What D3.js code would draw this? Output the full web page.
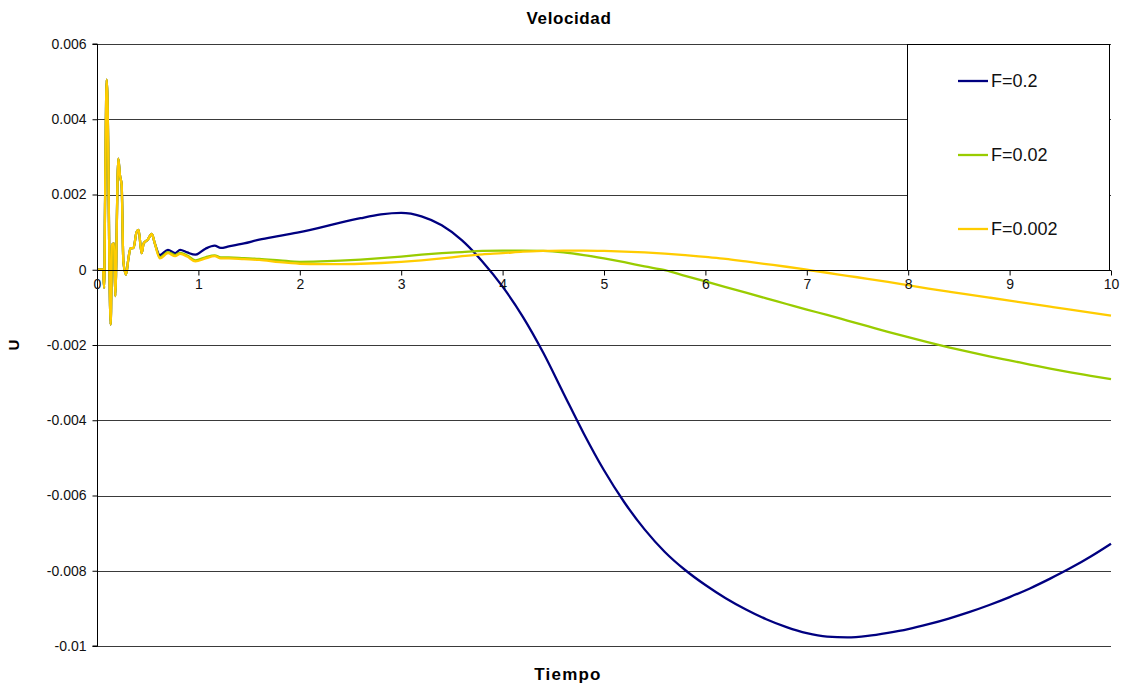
<!DOCTYPE html>
<html>
<head>
<meta charset="utf-8">
<script src="https://cdn.jsdelivr.net/npm/d3@7"></script>
<style>
  html, body { margin: 0; padding: 0; background: #fff; }
  svg { display: block; font-family: "Liberation Sans", Arial, sans-serif; }
</style>
</head>
<body>
<svg id="chart" width="1125" height="686"></svg>
<script>
// Time samples (s)
const time = [
  0, 0.06, 0.07, 0.08, 0.095, 0.11, 0.12, 0.135, 0.148, 0.168, 0.18, 0.21, 0.227, 0.243,
  0.26, 0.286, 0.31, 0.33, 0.36, 0.39, 0.41, 0.44, 0.46, 0.50, 0.54, 0.57,
  0.62, 0.70, 0.77, 0.82, 0.89, 0.97, 1.07, 1.16, 1.22, 1.3, 1.45, 1.6, 1.8, 2.0,
  2.2, 2.4, 2.6, 2.8, 3.0, 3.2, 3.4, 3.6, 3.8, 4.0, 4.2, 4.4, 4.6, 4.8, 5.0,
  5.2, 5.4, 5.6, 5.8, 6.0, 6.2, 6.4, 6.6, 6.8, 7.0, 7.2, 7.4, 7.6, 7.8, 8.0,
  8.2, 8.4, 8.6, 8.8, 9.0, 9.2, 9.4, 9.6, 9.8, 10.0
];

// Velocity U for F = 0.2
const uF02 = [
  0, 0, -0.00048, 0.0019, 0.00505, 0.0034, 0.00066, -0.00146, 0.00066, 0.0007, -0.0007, 0.00295, 0.0025, 0.00225,
  0.00022, -0.00013, 0.0003, 0.00057, 0.00058, 0.001, 0.00106, 0.00044, 0.0007, 0.0008, 0.00095, 0.0007,
  0.00039, 0.00053, 0.00044, 0.00053, 0.00046, 0.0004, 0.00056, 0.00064, 0.00058, 0.00062, 0.0007, 0.0008, 0.0009, 0.001,
  0.00112, 0.00125, 0.00137, 0.00147, 0.00151, 0.00142, 0.00118, 0.00078, 0.00022, -0.00045, -0.00125, -0.0022, -0.00328, -0.00435, -0.00533,
  -0.00618, -0.0069, -0.0075, -0.00798, -0.00838, -0.00873, -0.00903, -0.00929, -0.0095, -0.00966, -0.00975, -0.00977, -0.00973, -0.00965, -0.00955,
  -0.00942, -0.00927, -0.0091, -0.00891, -0.0087, -0.00847, -0.00821, -0.00793, -0.00762, -0.00728
];

// Velocity U for F = 0.02
const uF002 = [
  0, 0, -0.00048, 0.0019, 0.00505, 0.0034, 0.00066, -0.00146, 0.00066, 0.0007, -0.0007, 0.00295, 0.0025, 0.00225,
  0.00022, -0.00013, 0.0003, 0.00057, 0.00058, 0.001, 0.00106, 0.00044, 0.0007, 0.0008, 0.00095, 0.0007,
  0.00033, 0.00047, 0.00039, 0.00045, 0.00038, 0.00025, 0.00033, 0.00038, 0.00033, 0.00033, 0.00031, 0.00029, 0.00025, 0.00021,
  0.00022, 0.00024, 0.00027, 0.00031, 0.00035, 0.0004, 0.00044, 0.00047, 0.0005, 0.00051, 0.00051, 0.0005, 0.00046, 0.00039, 0.0003,
  0.0002, 0.00009, -0.00001, -0.00016, -0.00031, -0.00046, -0.00061, -0.00076, -0.00091, -0.00106, -0.0012, -0.00135, -0.0015, -0.00165, -0.00179,
  -0.00193, -0.00206, -0.00218, -0.0023, -0.00241, -0.00252, -0.00263, -0.00273, -0.00282, -0.00291
];

// Velocity U for F = 0.002
const uF0002 = [
  0, 0, -0.00048, 0.0019, 0.00505, 0.0034, 0.00066, -0.00146, 0.00066, 0.0007, -0.0007, 0.00295, 0.0025, 0.00225,
  0.00022, -0.00013, 0.0003, 0.00057, 0.00058, 0.001, 0.00106, 0.00044, 0.0007, 0.0008, 0.00095, 0.0007,
  0.0003, 0.00044, 0.00036, 0.00042, 0.00035, 0.00022, 0.0003, 0.00036, 0.0003, 0.0003, 0.00028, 0.00026, 0.0002, 0.00016,
  0.00015, 0.00015, 0.00016, 0.00018, 0.00021, 0.00025, 0.0003, 0.00036, 0.00041, 0.00044, 0.00048, 0.0005, 0.00051, 0.00051, 0.0005,
  0.00048, 0.00046, 0.00043, 0.00039, 0.00034, 0.00029, 0.00022, 0.00015, 0.00008, 0, -0.00008, -0.00016, -0.00024, -0.00032, -0.00041,
  -0.0005, -0.00058, -0.00066, -0.00074, -0.00082, -0.0009, -0.00098, -0.00106, -0.00114, -0.00122
];

const seriesNames = ["F=0.2", "F=0.02", "F=0.002"];
const seriesColors = ["#000080", "#99CC00", "#FFCC00"];
const seriesValues = [uF02, uF002, uF0002];

const xTicks = [0, 1, 2, 3, 4, 5, 6, 7, 8, 9, 10];
const yTicks = [0.006, 0.004, 0.002, 0, -0.002, -0.004, -0.006, -0.008, -0.01];

const chartTitle = "Velocidad";
const xTitle = "Tiempo";
const yTitle = "U";

const svg = d3.select("#chart");
const plot = { left: 97, right: 1111, top: 44, bottom: 646 };

const x = d3.scaleLinear().domain([0, 10]).range([plot.left, plot.right]);
const y = d3.scaleLinear().domain([-0.01, 0.006]).range([plot.bottom, plot.top]);

// Horizontal gridlines
svg.append("g")
  .selectAll("line")
  .data(yTicks)
  .join("line")
  .attr("x1", plot.left).attr("x2", plot.right)
  .attr("y1", d => Math.round(y(d)) + 0.5).attr("y2", d => Math.round(y(d)) + 0.5)
  .attr("stroke", "#3a3a3a").attr("stroke-width", 1);

// Series lines
const line = d3.line()
  .x((d, i) => x(time[i]))
  .y(d => y(d))
  .curve(d3.curveMonotoneX);

svg.append("g")
  .selectAll("path")
  .data(seriesValues)
  .join("path")
  .attr("d", d => line(d))
  .attr("fill", "none")
  .attr("stroke", (d, i) => seriesColors[i])
  .attr("stroke-width", 2.3)
  .attr("stroke-linejoin", "round");

// Y axis
const yAxis = d3.axisLeft(y)
  .tickValues(yTicks)
  .tickSize(5)
  .tickPadding(6)
  .tickFormat(d => d === 0 ? "0" : String(+d.toFixed(3)));

const gy = svg.append("g")
  .attr("transform", `translate(${plot.left + 0.5},0)`)
  .call(yAxis);
gy.select(".domain").attr("stroke", "#000").attr("d", `M-5,${plot.top}H0V${plot.bottom}H-5`);
gy.selectAll(".tick line").attr("stroke", "#000");
gy.selectAll(".tick text")
  .attr("font-size", 14)
  .attr("fill", "#111")
  .attr("font-family", "Liberation Sans, Arial, sans-serif");

// X axis along U = 0
const xAxis = d3.axisBottom(x)
  .tickValues(xTicks)
  .tickSize(5)
  .tickPadding(4)
  .tickFormat(d3.format("d"));

const gx = svg.append("g")
  .attr("transform", `translate(0,${Math.round(y(0)) + 0.5})`)
  .call(xAxis);
gx.select(".domain").attr("stroke", "#000").attr("d", `M${plot.left},0H${plot.right}`);
gx.selectAll(".tick line").attr("stroke", "#000");
gx.selectAll(".tick text")
  .attr("font-size", 14)
  .attr("fill", "#111")
  .attr("font-family", "Liberation Sans, Arial, sans-serif");

// Legend
const legend = svg.append("g");
legend.append("rect")
  .attr("x", 907.5).attr("y", plot.top + 0.5)
  .attr("width", 202).attr("height", Math.round(y(0)) - plot.top)
  .attr("fill", "#fff").attr("stroke", "#000").attr("stroke-width", 1);

const legendRows = [81, 155, 229];
const items = legend.selectAll("g.item")
  .data(seriesNames)
  .join("g")
  .attr("class", "item")
  .attr("transform", (d, i) => `translate(0,${legendRows[i]})`);
items.append("line")
  .attr("x1", 958).attr("x2", 988).attr("y1", 0).attr("y2", 0)
  .attr("stroke", (d, i) => seriesColors[i]).attr("stroke-width", 2.3);
items.append("text")
  .attr("x", 991).attr("y", 6)
  .attr("font-size", 18)
  .attr("fill", "#111")
  .text(d => d);

// Titles
svg.append("text")
  .attr("x", 569).attr("y", 24)
  .attr("text-anchor", "middle")
  .attr("font-size", 17).attr("font-weight", "bold")
  .attr("letter-spacing", 0.6)
  .text(chartTitle);

svg.append("text")
  .attr("x", 568).attr("y", 680)
  .attr("text-anchor", "middle")
  .attr("font-size", 17).attr("font-weight", "bold")
  .attr("letter-spacing", 1.2)
  .text(xTitle);

svg.append("text")
  .attr("transform", `translate(19,${345}) rotate(-90)`)
  .attr("text-anchor", "middle")
  .attr("font-size", 15).attr("font-weight", "bold")
  .text(yTitle);
</script>
</body>
</html>
